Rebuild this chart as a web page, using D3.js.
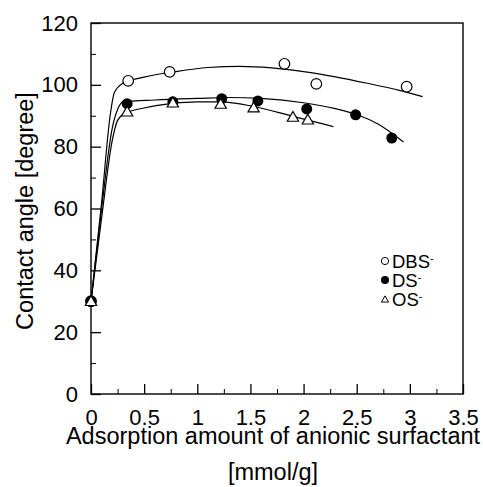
<!DOCTYPE html>
<html>
<head>
<meta charset="utf-8">
<script src="https://cdn.jsdelivr.net/npm/d3@7"></script>
<style>
  body { margin: 0; background: #fff; }
  text { font-family: "Liberation Sans", Arial, sans-serif; fill: #000; }
</style>
</head>
<body>
<svg id="chart" width="483" height="487"></svg>
<script>
// measured points [x (mmol/g), contact angle (deg)]
const dbsPoints = [[0, 30], [0.35, 101.3], [0.74, 104.2], [1.82, 106.8], [2.12, 100.3], [2.97, 99.4]];
const dsPoints = [[0, 30], [0.34, 93.9], [0.77, 94.5], [1.23, 95.5], [1.57, 94.8], [2.03, 92.2], [2.49, 90.3], [2.83, 82.8]];
const osPoints = [[0, 30], [0.34, 91.3], [0.77, 94.2], [1.22, 93.8], [1.53, 92.6], [1.90, 89.6], [2.04, 88.7]];

// fitted curves
const dbsFit = [[0, 30], [0.1, 62], [0.18, 90], [0.22, 97.5], [0.3, 100.5], [0.5, 102.5], [0.8, 104.3], [1.1, 105.6],
  [1.4, 106], [1.7, 105.5], [2.0, 104.3], [2.3, 102.6], [2.6, 100.5], [2.9, 98.2], [3.12, 96.2]];
const dsFit = [[0, 30], [0.1, 60], [0.2, 86], [0.25, 92], [0.3, 94.5], [0.6, 95.1], [1.0, 95.6], [1.3, 95.9],
  [1.6, 95.6], [2.0, 94.2], [2.3, 92.3], [2.5, 90.4], [2.7, 87.3], [2.94, 81.5]];
const osFit = [[0, 30], [0.1, 57], [0.2, 82], [0.25, 88.5], [0.32, 90.8], [0.5, 92.5], [0.77, 94], [1.0, 94.5],
  [1.22, 94.5], [1.53, 93], [1.9, 89.8], [2.28, 86.5]];

const xTicks = [0, 0.5, 1, 1.5, 2, 2.5, 3, 3.5];
const yTicks = [0, 20, 40, 60, 80, 100, 120];
const legendLabels = ['DBS', 'DS', 'OS'];

const margin = { top: 23, right: 20, bottom: 93, left: 91 };
const width = 463 - margin.left;
const height = 394 - margin.top;

const svg = d3.select('#chart');
const g = svg.append('g').attr('transform', `translate(${margin.left},${margin.top})`);

const x = d3.scaleLinear().domain([0, 3.5]).range([0, width]);
const y = d3.scaleLinear().domain([0, 120]).range([height, 0]);

// minor ticks
g.append('g')
  .attr('transform', `translate(0,${height})`)
  .call(d3.axisBottom(x).tickValues(d3.range(0.25, 3.5, 0.5)).tickSize(-5).tickFormat(''))
  .call(a => a.select('.domain').remove());
g.append('g')
  .call(d3.axisLeft(y).tickValues(d3.range(10, 120, 20)).tickSize(-5).tickFormat(''))
  .call(a => a.select('.domain').remove());

// major ticks
const xAxis = g.append('g')
  .attr('transform', `translate(0,${height})`)
  .call(d3.axisBottom(x).tickValues(xTicks).tickSize(-10).tickSizeOuter(0).tickPadding(15).tickFormat(d3.format('')));
const yAxis = g.append('g')
  .call(d3.axisLeft(y).tickValues(yTicks).tickSize(-10).tickSizeOuter(0).tickPadding(13));

[xAxis, yAxis].forEach(a => {
  a.selectAll('text').style('font-size', '22px');
  a.selectAll('line').attr('stroke-width', 1.3);
  a.select('.domain').remove();
});

// frame
g.append('rect')
  .attr('width', width).attr('height', height)
  .attr('fill', 'none').attr('stroke', '#000').attr('stroke-width', 1.4);

// fitted lines
const line = d3.line().curve(d3.curveMonotoneX).x(d => x(d[0])).y(d => y(d[1]));
[dbsFit, dsFit, osFit].forEach(fit => {
  g.append('path').datum(fit).attr('d', line)
    .attr('fill', 'none').attr('stroke', '#000').attr('stroke-width', 1.2);
});

// markers
const tri = d3.symbol().type(d3.symbolTriangle).size(55);
g.selectAll('.dbs').data(dbsPoints).join('circle')
  .attr('cx', d => x(d[0])).attr('cy', d => y(d[1])).attr('r', 5.3)
  .attr('fill', '#fff').attr('stroke', '#000').attr('stroke-width', 1.2);
g.selectAll('.ds').data(dsPoints).join('circle')
  .attr('cx', d => x(d[0])).attr('cy', d => y(d[1])).attr('r', 5.5)
  .attr('fill', '#000');
g.selectAll('.os').data(osPoints).join('path')
  .attr('d', tri)
  .attr('transform', d => `translate(${x(d[0])},${y(d[1]) + 1})`)
  .attr('fill', '#fff').attr('stroke', '#000').attr('stroke-width', 1.2);

// legend
const legend = svg.append('g').attr('transform', 'translate(385,261)');
legendLabels.forEach((lab, i) => {
  const row = legend.append('g').attr('transform', `translate(0,${i * 19})`);
  if (i === 0) row.append('circle').attr('r', 3.6).attr('fill', '#fff').attr('stroke', '#000').attr('stroke-width', 1);
  if (i === 1) row.append('circle').attr('r', 4).attr('fill', '#000');
  if (i === 2) row.append('path').attr('d', d3.symbol().type(d3.symbolTriangle).size(22)).attr('transform', 'translate(0,1)')
    .attr('fill', '#fff').attr('stroke', '#000').attr('stroke-width', 1);
  const t = row.append('text').attr('x', 7).attr('dy', '0.36em').style('font-size', '18.5px').text(lab);
  t.append('tspan').attr('dy', '-0.5em').style('font-size', '11px').text('-');
});

// axis titles
svg.append('text')
  .attr('x', 273).attr('y', 444).attr('text-anchor', 'middle').style('font-size', '23.5px')
  .text('Adsorption amount of anionic surfactant');
svg.append('text')
  .attr('x', 273).attr('y', 480).attr('text-anchor', 'middle').style('font-size', '23.5px')
  .text('[mmol/g]');
svg.append('text')
  .attr('transform', 'translate(33,211) rotate(-90)').attr('text-anchor', 'middle').style('font-size', '23.5px')
  .text('Contact angle [degree]');
</script>
</body>
</html>
